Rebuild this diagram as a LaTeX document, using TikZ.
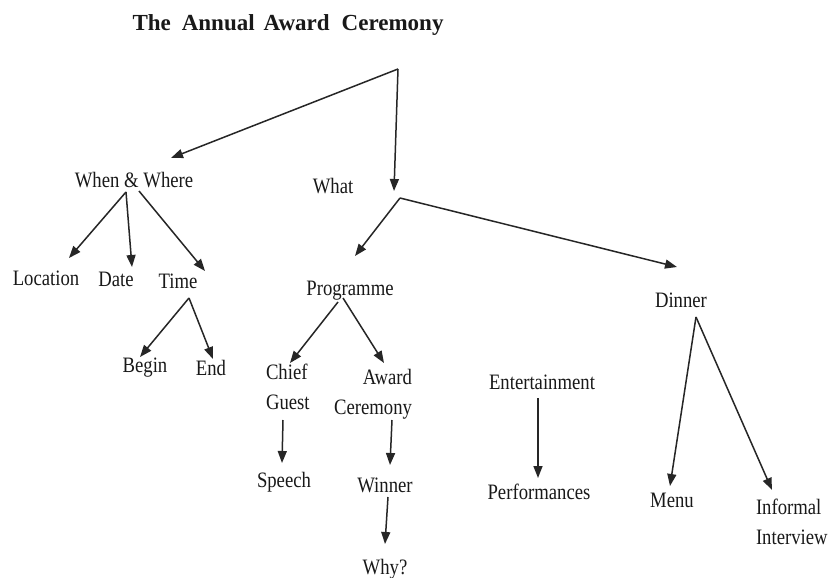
\documentclass[tikz,border=0pt]{standalone}
\usepackage{fontspec}
\setmainfont{Liberation Serif}[FakeStretch=0.85]
\newfontfamily\titlefont{Liberation Serif}
\usetikzlibrary{arrows.meta,calc}
\tikzset{
  lbl/.style={inner sep=0pt, outer sep=0pt, font=\fontsize{22}{30}\selectfont, text=black!90},
  arr/.style={line width=1.5pt, draw=black!85, -{Triangle[length=12pt,width=9pt]}},
}
\begin{document}
\begin{tikzpicture}[x=1pt,y=-1pt]
\useasboundingbox[fill=white] (0,0) rectangle (839,578);

% title
\node[lbl, anchor=base, font=\titlefont\bfseries\fontsize{23}{28}\selectfont] (title) at (288,31)
  {The\hspace{11pt}Annual\hspace{9pt}Award\hspace{12pt}Ceremony};

% nodes
\node[lbl, anchor=base] (ww) at (134,187) {When \& Where};
\node[lbl, anchor=base] (what) at (333,193) {What};
\node[lbl, anchor=base] (loc) at (46,285) {Location};
\node[lbl, anchor=base] (date) at (116,286) {Date};
\node[lbl, anchor=base] (time) at (178,288) {Time};
\node[lbl, anchor=base] (begin) at (145,372) {Begin};
\node[lbl, anchor=base] (end) at (211,375) {End};
\node[lbl, anchor=base] (prog) at (350,295) {Programme};
\node[lbl, anchor=north west, align=left] (chief) at (266,364) {Chief\\Guest};
\node[lbl, anchor=north east, align=right] (award) at (412,369) {Award\\Ceremony};
\node[lbl, anchor=base] (speech) at (284,487) {Speech};
\node[lbl, anchor=base] (winner) at (385,492) {Winner};
\node[lbl, anchor=base] (why) at (385,574) {Why?};
\node[lbl, anchor=base] (ent) at (542,389) {Entertainment};
\node[lbl, anchor=base] (perf) at (539,499) {Performances};
\node[lbl, anchor=base] (dinner) at (681,307) {Dinner};
\node[lbl, anchor=base] (menu) at (672,507) {Menu};
\node[lbl, anchor=north west, align=left] (inf) at (756,499) {Informal\\Interview};

% junctions
\coordinate (root) at (398,69);
\coordinate (j2) at (400,198);

% connectors
\draw[arr] (root) -- ([shift={(37,-29)}]ww.base);
\draw[arr] (root) -- ([shift={(61,-2)}]what.base);
\draw[arr] (j2) -- ([shift={(5,-39)}]prog.base);
\draw[arr] (j2) -- ([shift={(-4,-40)}]dinner.base);

\draw[arr] ([shift={(-8,5)}]ww.base) -- ([shift={(23,-27)}]loc.base);
\draw[arr] ([shift={(-8,5)}]ww.base) -- ([shift={(16,-19)}]date.base);
\draw[arr] ([shift={(5,4)}]ww.base) -- ([shift={(27,-17)}]time.base);

\draw[arr] ([shift={(11,10)}]time.base) -- ([shift={(-5,-15)}]begin.base);
\draw[arr] ([shift={(11,10)}]time.base) -- ([shift={(2,-16)}]end.base);

\draw[arr] ([shift={(-12,7)}]prog.base) -- ([shift={(24,-1)}]chief.north west);
\draw[arr] ([shift={(-7,3)}]prog.base) -- ([shift={(-28,-6)}]award.north east);

\draw[arr] ([shift={(17,56)}]chief.north west) -- ([shift={(-2,-24)}]speech.base);
\draw[arr] ([shift={(-20,51)}]award.north east) -- ([shift={(5,-27)}]winner.base);
\draw[arr] ([shift={(3,5)}]winner.base) -- ([shift={(0,-30)}]why.base);

\draw[arr] ([shift={(-4,9)}]ent.base) -- ([shift={(-1,-21)}]perf.base);

\draw[arr] ([shift={(15,10)}]dinner.base) -- ([shift={(-2,-21)}]menu.base);
\draw[arr] ([shift={(15,10)}]dinner.base) -- ([shift={(16,-9)}]inf.north west);
\end{tikzpicture}
\end{document}
